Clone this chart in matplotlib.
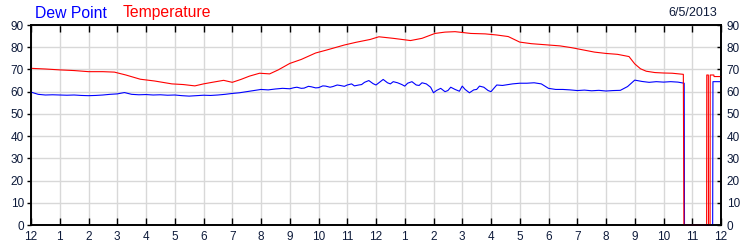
import numpy as np
import matplotlib.pyplot as plt

plt.rcParams['font.family'] = ['Liberation Sans', 'DejaVu Sans']

# hours since midnight, 6/5/2013
temp_hours = [0, 0.5, 1, 1.5, 2, 2.5, 2.9, 3.3, 3.8, 4.3, 4.9, 5.3, 5.7, 6.0, 6.3, 6.7, 7.0, 7.3, 7.6, 7.95, 8.3, 8.6, 9.0,
              9.4, 9.9, 10.3, 10.9, 11.3, 11.8, 12.1, 12.6, 13.2, 13.6, 14.05, 14.4, 14.75, 15.3, 15.8, 16.2, 16.6,
              17.0, 17.4, 18.0, 18.4, 18.8, 19.2, 19.6, 20.0, 20.4, 20.8, 21.0, 21.2, 21.4, 21.7, 22.0, 22.3, 22.69,
              22.71, 23.50, 23.505, 23.56, 23.565, 23.62, 23.625, 23.75, 23.76, 24]
temp_vals = [70.5, 70.2, 69.8, 69.5, 69.0, 69.0, 68.8, 67.5, 65.6, 64.8, 63.5, 63.2, 62.6, 63.5, 64.2, 65.1, 64.2, 65.5, 67.0,
             68.3, 68.0, 69.8, 72.7, 74.5, 77.4, 78.8, 81.0, 82.2, 83.5, 84.7, 84.0, 83.0, 84.0, 86.2, 86.8, 87.0, 86.2,
             86.0, 85.5, 84.8, 82.3, 81.6, 81.0, 80.6, 79.8, 78.8, 77.8, 77.2, 76.8, 75.8, 72.5, 70.3, 69.2, 68.6, 68.4,
             68.3, 67.8, 0, 0, 67.5, 67.5, 0, 0, 67.5, 67.5, 66.8, 66.8]

dew_hours = [0, 0.25, 0.5, 0.75, 1, 1.25, 1.5, 1.75, 2, 2.25, 2.5, 2.75, 3, 3.25, 3.5, 3.75, 4, 4.25, 4.5, 4.75, 5, 5.25,
             5.5, 5.75, 6, 6.25, 6.5, 6.75, 7, 7.25, 7.5, 7.75, 8, 8.25, 8.5, 8.75, 9, 9.15, 9.25, 9.4, 9.5, 9.65, 9.75,
             9.9, 10, 10.15, 10.25, 10.4, 10.5, 10.65, 10.75, 10.9, 11, 11.15, 11.25, 11.4, 11.5, 11.6, 11.75, 11.9, 12,
             12.1, 12.25, 12.4, 12.5, 12.6, 12.75, 12.9, 13, 13.1, 13.25, 13.4, 13.5, 13.6, 13.75, 13.9, 14, 14.1, 14.25,
             14.4, 14.5, 14.6, 14.75, 14.9, 15, 15.1, 15.25, 15.4, 15.5, 15.6, 15.75, 15.9, 16, 16.2, 16.4, 16.75, 17,
             17.25, 17.5, 17.75, 18, 18.25, 18.5, 18.75, 19, 19.25, 19.5, 19.75, 20, 20.25, 20.5, 20.75, 21, 21.25, 21.5,
             21.75, 22, 22.25, 22.5, 22.72, 22.73, 23.71, 23.72, 24]
dew_vals = [59.8, 58.8, 58.5, 58.6, 58.5, 58.4, 58.5, 58.3, 58.2, 58.3, 58.5, 58.8, 59.0, 59.6, 58.8, 58.6, 58.7, 58.5,
            58.6, 58.4, 58.5, 58.2, 58.0, 58.2, 58.4, 58.3, 58.5, 58.8, 59.2, 59.5, 60.0, 60.5, 61.0, 60.8, 61.2, 61.5,
            61.3, 61.8, 62.0, 61.5, 61.6, 62.4, 62.2, 61.7, 61.8, 62.6, 62.5, 62.0, 62.3, 63.0, 62.8, 62.4, 63.0, 63.5,
            62.6, 63.0, 63.2, 64.2, 65.0, 63.6, 63.0, 64.0, 65.5, 64.0, 63.5, 64.5, 64.0, 63.2, 62.5, 63.8, 64.5, 63.0,
            62.8, 64.0, 63.5, 62.0, 59.5, 60.5, 61.5, 60.0, 60.5, 62.0, 61.0, 60.2, 62.5, 61.0, 59.5, 60.8, 61.0, 62.5,
            62.0, 60.5, 60.0, 63.0, 62.8, 63.5, 63.8, 63.8, 64.0, 63.5, 61.5, 61.0, 61.0, 60.8, 60.5, 60.7, 60.4, 60.6,
            60.3, 60.5, 60.6, 62.3, 65.2, 64.6, 64.2, 64.5, 64.3, 64.5, 64.3, 63.8, 0, 0, 64.5, 64.5]

hour_labels = ['12'] + [str(i) for i in range(1, 12)] + ['12'] + [str(i) for i in range(1, 12)] + ['12']
y_ticks = list(range(0, 91, 10))
lab_color = '#0d1a3a'

fig = plt.figure(figsize=(7.5, 2.5), dpi=100)
ax = fig.add_axes([31/750, 0.1, 690/750, 0.8])

ax.plot(dew_hours, dew_vals, color='blue', lw=0.8, zorder=3, clip_on=False)
ax.plot(temp_hours, temp_vals, color='red', lw=0.8, zorder=3, clip_on=False)

ax.set_xlim(0, 24)
ax.set_ylim(0, 90)
ax.set_xticks(range(25))
ax.set_xticklabels(hour_labels)
ax.set_yticks(y_ticks)
ax.grid(True, color='#d8d8d8', lw=1)
ax.set_axisbelow(True)
ax.tick_params(axis='x', direction='in', top=True, bottom=True, length=5, width=1,
               labelsize=8.5, labelcolor=lab_color, pad=4)
ax.tick_params(axis='y', direction='out', length=3, width=1, labelsize=8.5, labelcolor=lab_color, pad=2)
for s in ax.spines.values():
    s.set_linewidth(1.2)

ax2 = ax.twinx()
ax2.set_ylim(0, 90)
ax2.set_yticks(y_ticks)
ax2.tick_params(axis='y', direction='in', length=3, width=1, labelsize=8.5, labelcolor=lab_color, pad=4)
for s in ax2.spines.values():
    s.set_linewidth(1.2)

fig.text(35/750, 1 - 13/250, 'Dew Point', color='blue', fontsize=11.3, va='center', ha='left')
fig.text(123/750, 1 - 13/250, 'Temperature', color='red', fontsize=11.3, va='center', ha='left')
fig.text(717/750, 1 - 13/250, '6/5/2013', color=lab_color, fontsize=9, va='center', ha='right')

fig.savefig('out.png', dpi=100)
